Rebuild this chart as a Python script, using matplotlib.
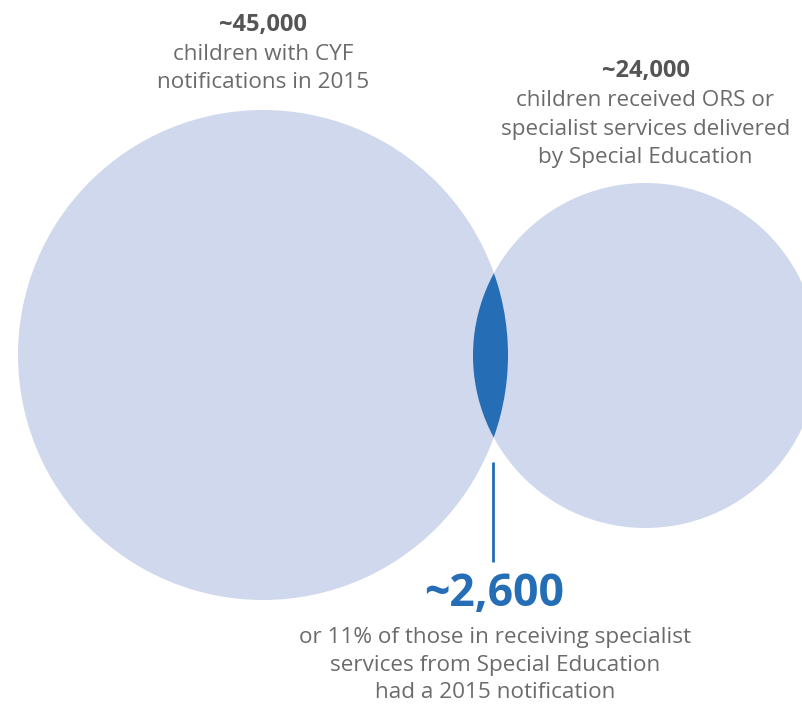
import matplotlib
matplotlib.use('Agg')
import matplotlib.pyplot as plt
from matplotlib.patches import Circle

plt.rcParams['font.family'] = ['Open Sans', 'DejaVu Sans']

# 数据：圆心和半径（像素坐标）
set_names = ['CYF notifications', 'Special Education']
centers_x = [263, 645.5]
centers_y = [355, 355.5]
radii = [245, 172.5]
counts = ['~45,000', '~24,000']
descs = [['children with CYF', 'notifications in 2015'],
         ['children received ORS or', 'specialist services delivered', 'by Special Education']]
label_y = [25, 71]
overlap_count = '~2,600'
overlap_desc = ['or 11% of those in receiving specialist',
                'services from Special Education',
                'had a 2015 notification']

light = '#cfd8ec'
dark = '#256db5'
grey = '#6b6b6b'
step = 29  # 行距

fig = plt.figure(figsize=(8.02, 7.05), dpi=100)
ax = fig.add_axes([0, 0, 1, 1])
ax.set_xlim(0, 802)
ax.set_ylim(705, 0)
ax.set_aspect('equal')
ax.axis('off')

for cx, cy, r in zip(centers_x, centers_y, radii):
    ax.add_patch(Circle((cx, cy), r, facecolor=light, edgecolor='none'))

# 交集：用右圆再画一次，裁剪到左圆
clip = Circle((centers_x[0], centers_y[0]), radii[0], transform=ax.transData)
inter = Circle((centers_x[1], centers_y[1]), radii[1], facecolor=dark, edgecolor='none')
ax.add_patch(inter)
inter.set_clip_path(clip)

# 标签
for cx, y0, c, lines in zip(centers_x, label_y, counts, descs):
    ax.text(cx, y0, c, ha='center', va='center', fontsize=17, fontweight='bold', color='#555555')
    for i, s in enumerate(lines):
        ax.text(cx, y0 + step * (i + 1), s, ha='center', va='center', fontsize=16.2, color=grey)

ax.plot([493, 493], [462, 562], color=dark, lw=2, solid_capstyle='butt')
ax.text(494, 595, overlap_count, ha='center', va='center', fontsize=32, fontweight='bold', color=dark)
for i, s in enumerate(overlap_desc):
    ax.text(495, 637 + 28 * i, s, ha='center', va='center', fontsize=16.2, color=grey)

fig.savefig('out.png', dpi=100)
